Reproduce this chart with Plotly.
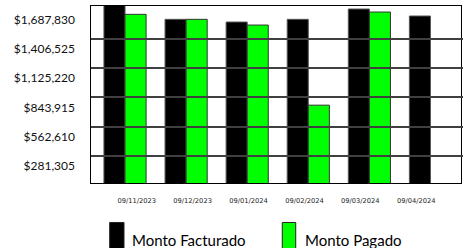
import plotly.graph_objects as go

dates = ["09/11/2023", "09/12/2023", "09/01/2024", "09/02/2024", "09/03/2024", "09/04/2024"]
series_names = ["Monto Facturado", "Monto Pagado"]
monto_facturado = [1750000, 1593000, 1567000, 1593000, 1692000, 1625000]
monto_pagado = [1641000, 1593000, 1538000, 769000, 1663000, None]
tick_values = [281305, 562610, 843915, 1125220, 1406525, 1687830]
tick_labels = ["$281,305", "$562,610", "$843,915", "$1,125,220", "$1,406,525", "$1,687,830"]
colors = ["#000000", "#00FF00"]

fig = go.Figure()
fig.add_trace(go.Bar(x=dates, y=monto_facturado, name=series_names[0],
                     marker=dict(color=colors[0], line=dict(color="#555555", width=1))))
fig.add_trace(go.Bar(x=dates, y=monto_pagado, name=series_names[1],
                     marker=dict(color=colors[1], line=dict(color="#333333", width=1))))
# empty helper trace so that the label-only overlay axes are rendered
fig.add_trace(go.Scatter(x=[], y=[], xaxis="x2", yaxis="y2", showlegend=False,
                         hoverinfo="skip"))

yr = [21639, 1721000]
fig.update_layout(
    width=469, height=248,
    margin=dict(l=91, r=8, t=6, b=65, autoexpand=False),
    paper_bgcolor="white", plot_bgcolor="white",
    showlegend=False,
    barmode="group", bargap=0.31, bargroupgap=0,
    xaxis=dict(type="category", range=[-0.557, 5.5], showticklabels=False, ticks="",
               showline=True, mirror=True, linecolor="black", linewidth=1, showgrid=False,
               layer="above traces", automargin=False),
    xaxis2=dict(type="linear", overlaying="x", anchor="y", side="bottom",
                range=[-0.8175, 5.801], tickmode="array", tickvals=list(range(len(dates))),
                ticktext=dates, showgrid=False, zeroline=False, showline=False, ticks="",
                ticklabelstandoff=12, automargin=False,
                tickfont=dict(family="DejaVu Sans", size=6.7, color="#222222")),
    yaxis=dict(range=yr, tickmode="array", tickvals=tick_values[:5], showticklabels=False,
               ticks="inside", ticklen=372, tickwidth=1.5, tickcolor="#404040",
               showgrid=False, zeroline=False, showline=True, mirror=True,
               linecolor="black", linewidth=1, layer="above traces", automargin=False),
    yaxis2=dict(range=yr, overlaying="y", anchor="x", side="left", tickmode="array",
                tickvals=tick_values, ticktext=tick_labels, ticks="", showgrid=False,
                zeroline=False, showline=False, ticklabelshift=10, ticklabelstandoff=15,
                automargin=False,
                tickfont=dict(family="Lato", size=12, color="#111111")),
)

legend_boxes = [(0.0505, 0.0892), (0.517, 0.5533)]
legend_text_x = [0.1054, 0.5722]
for i, name in enumerate(series_names):
    fig.add_shape(type="rect", xref="paper", yref="paper",
                  x0=legend_boxes[i][0], x1=legend_boxes[i][1], y0=-0.223, y1=-0.42,
                  fillcolor=colors[i], line=dict(color="#222222", width=1))
    fig.add_annotation(xref="paper", yref="paper", x=legend_text_x[i], y=-0.3214,
                       xanchor="left", yanchor="middle", showarrow=False, text=name,
                       font=dict(family="Lato", size=15, color="black"))

fig.write_html("out.html", config={"displayModeBar": False},
               post_script="document.body.style.margin='0px';")
